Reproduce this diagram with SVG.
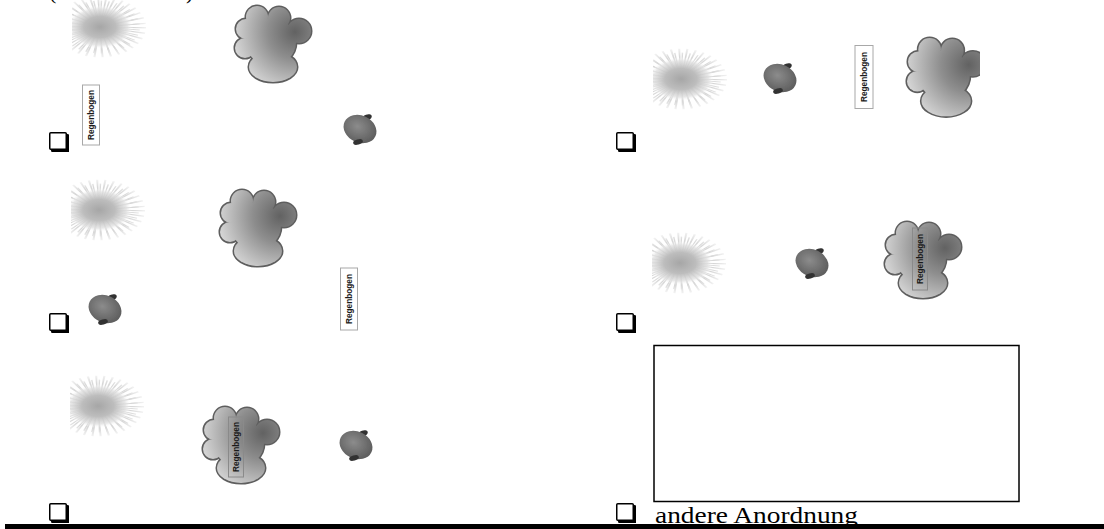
<svg xmlns="http://www.w3.org/2000/svg" xmlns:xlink="http://www.w3.org/1999/xlink" width="1104" height="529" viewBox="0 0 1104 529">
  <style>
    .paren { font-family: "Liberation Serif", "Times New Roman", serif; font-size: 22px; fill: #000; }
    .caption { font-family: "Liberation Serif", "Times New Roman", serif; font-size: 24px; fill: #000; }
    .tag rect { fill: #fff; stroke: #a8a8a8; stroke-width: 1; }
    .tag.inside rect { fill: none; stroke: #8a8a8a; }
    .tag text { font-family: "Liberation Sans", Arial, sans-serif; font-weight: bold; font-size: 8.5px; fill: #1a1a1a; text-anchor: middle; dominant-baseline: central; }
  </style>
  <defs>
    <filter id="soft" x="-20%" y="-20%" width="140%" height="140%">
      <feGaussianBlur stdDeviation="0.6"/>
    </filter>

    <!-- sun: radiating spokes under a soft grey core -->
    <radialGradient id="sunCore" cx="0" cy="0" r="46" gradientUnits="userSpaceOnUse">
      <stop offset="0" stop-color="#a6a6a6"/>
      <stop offset="0.35" stop-color="#bdbdbd"/>
      <stop offset="0.6" stop-color="#e2e2e2" stop-opacity="0.8"/>
      <stop offset="0.72" stop-color="#ffffff" stop-opacity="0"/>
    </radialGradient>
    <radialGradient id="sunRays" cx="0" cy="0" r="46" gradientUnits="userSpaceOnUse">
      <stop offset="0.3" stop-color="#bcbcbc"/>
      <stop offset="0.75" stop-color="#d8d8d8"/>
      <stop offset="1" stop-color="#f2f2f2"/>
    </radialGradient>
    <clipPath id="sunClip">
      <rect x="-28" y="-80" width="100" height="160"/>
    </clipPath>
    <g id="sun">
      <g clip-path="url(#sunClip)" filter="url(#soft)" transform="scale(1,0.66)">
        <circle r="27" fill="none" stroke="url(#sunRays)" stroke-width="38" stroke-dasharray="1.3 3.7"/>
        <circle r="25" fill="none" stroke="url(#sunRays)" stroke-width="30" stroke-dasharray="1 4" stroke-dashoffset="2.5"/>
        <circle r="34" fill="url(#sunCore)"/>
      </g>
    </g>

    <!-- cloud: union of lobes, outline drawn first then covered by the fill -->
    <radialGradient id="cloudFill" cx="60" cy="28" r="68" gradientUnits="userSpaceOnUse">
      <stop offset="0" stop-color="#626262"/>
      <stop offset="0.4" stop-color="#8e8e8e"/>
      <stop offset="1" stop-color="#e2e2e2"/>
    </radialGradient>
    <g id="cloudLobes">
      <circle cx="22" cy="13" r="11"/>
      <circle cx="44" cy="14" r="11"/>
      <circle cx="64" cy="27" r="12"/>
      <circle cx="11" cy="25" r="10"/>
      <circle cx="10" cy="44" r="10"/>
      <ellipse cx="38" cy="63" rx="24" ry="15"/>
      <ellipse cx="36" cy="38" rx="25" ry="24"/>
    </g>
    <g id="cloud">
      <use xlink:href="#cloudLobes" fill="none" stroke="#5e5e5e" stroke-width="3"/>
      <use xlink:href="#cloudLobes" fill="url(#cloudFill)"/>
    </g>

    <!-- dark round fruit with two small caps -->
    <radialGradient id="fruitFill" cx="0.4" cy="0.45" r="0.6">
      <stop offset="0" stop-color="#8c8c8c"/>
      <stop offset="1" stop-color="#5e5e5e"/>
    </radialGradient>
    <g id="fruit" filter="url(#soft)">
      <ellipse cx="7" cy="-11.5" rx="5" ry="3" transform="rotate(-20 7 -11.5)" fill="#333"/>
      <ellipse rx="17" ry="13.5" transform="rotate(25)" fill="url(#fruitFill)"/>
      <ellipse cx="-2" cy="13" rx="5" ry="2.6" transform="rotate(-15 -2 13)" fill="#333"/>
    </g>

    <!-- answer box with a drop shadow on the lower right -->
    <g id="tick">
      <polygon points="1.5,17 17,17 17,1.5 20,2.5 20,20 2.5,20" fill="#000"/>
      <rect x="0.75" y="0.75" width="16.5" height="16.5" rx="1" fill="#fff" stroke="#000" stroke-width="1.5"/>
    </g>
  </defs>

  <!-- heading brackets, cut by the top edge -->
  <text class="paren" x="49" y="-1">(</text>
  <text class="paren" x="186" y="-1">)</text>

  <!-- arrangement 1 -->
  <g id="option1">
    <use xlink:href="#sun" transform="translate(100,27)"/>
    <use xlink:href="#cloud" transform="translate(235,4)"/>
    <g class="tag" transform="translate(91,115)">
      <rect x="-8.5" y="-30" width="17" height="60"/>
      <text transform="rotate(-90)" textLength="50" lengthAdjust="spacingAndGlyphs">Regenbogen</text>
    </g>
    <use xlink:href="#fruit" transform="translate(360,129)"/>
    <use xlink:href="#tick" transform="translate(49,132)"/>
  </g>

  <!-- arrangement 2 -->
  <g id="option2">
    <use xlink:href="#sun" transform="translate(681,79)"/>
    <use xlink:href="#fruit" transform="translate(780,78)"/>
    <g class="tag" transform="translate(864,77)">
      <rect x="-9" y="-31.5" width="18" height="63"/>
      <text transform="rotate(-90)" textLength="50" lengthAdjust="spacingAndGlyphs">Regenbogen</text>
    </g>
    <svg x="0" y="0" width="980" height="529" overflow="hidden">
      <use xlink:href="#cloud" transform="translate(907,36) scale(1.03)"/>
    </svg>
    <use xlink:href="#tick" transform="translate(616,132)"/>
  </g>

  <!-- arrangement 3 -->
  <g id="option3">
    <use xlink:href="#sun" transform="translate(99,210)"/>
    <use xlink:href="#cloud" transform="translate(220,188)"/>
    <use xlink:href="#fruit" transform="translate(105,309)"/>
    <g class="tag" transform="translate(349,299)">
      <rect x="-8.5" y="-31" width="17" height="62"/>
      <text transform="rotate(-90)" textLength="50" lengthAdjust="spacingAndGlyphs">Regenbogen</text>
    </g>
    <use xlink:href="#tick" transform="translate(49,313)"/>
  </g>

  <!-- arrangement 4 -->
  <g id="option4">
    <use xlink:href="#sun" transform="translate(680,263)"/>
    <use xlink:href="#fruit" transform="translate(812,263)"/>
    <use xlink:href="#cloud" transform="translate(885,220)"/>
    <g class="tag inside" transform="translate(920,259)">
      <rect x="-7.5" y="-31" width="15" height="62"/>
      <text transform="rotate(-90)" textLength="50" lengthAdjust="spacingAndGlyphs">Regenbogen</text>
    </g>
    <use xlink:href="#tick" transform="translate(616,313)"/>
  </g>

  <!-- arrangement 5 -->
  <g id="option5">
    <use xlink:href="#sun" transform="translate(98,406)"/>
    <use xlink:href="#cloud" transform="translate(203,405)"/>
    <g class="tag inside" transform="translate(236,447)">
      <rect x="-7.5" y="-30" width="15" height="60"/>
      <text transform="rotate(-90)" textLength="50" lengthAdjust="spacingAndGlyphs">Regenbogen</text>
    </g>
    <use xlink:href="#fruit" transform="translate(356,445)"/>
    <use xlink:href="#tick" transform="translate(49,503)"/>
  </g>

  <!-- other arrangement: empty drawing field -->
  <g id="option6">
    <rect x="654" y="345.5" width="365" height="156" fill="none" stroke="#000" stroke-width="1.5"/>
    <use xlink:href="#tick" transform="translate(616,503)"/>
    <text class="caption" x="655" y="523" textLength="203" lengthAdjust="spacingAndGlyphs">andere Anordnung</text>
  </g>

  <!-- page rule -->
  <rect x="5" y="524" width="1099" height="5" fill="#000"/>
</svg>
